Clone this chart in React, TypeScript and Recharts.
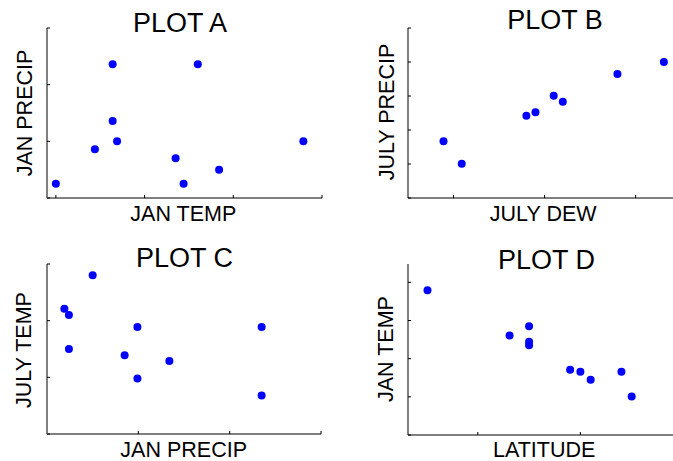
import React from "react";
import { ScatterChart, Scatter, XAxis, YAxis } from "recharts";

// plot A: jan temp vs jan precip
const aTemp = [0, 0.44, 0.64, 0.64, 0.69, 1.35, 1.44, 1.6, 1.84, 2.79];
const aPrecip = [0.25, 0.86, 2.36, 1.36, 1.0, 0.7, 0.25, 2.36, 0.5, 1.0];
// plot B: july dew vs july precip
const bDew = [-0.11, 0.09, 0.8, 0.9, 1.1, 1.2, 1.8, 2.31];
const bPrecip = [1.67, 1.01, 2.42, 2.52, 3.01, 2.83, 3.65, 4.0];
// plot C: jan precip vs july temp
const cPrecip = [0.19, 0.24, 0.5, 0.24, 0.85, 0.99, 0.99, 1.34, 2.35, 2.35];
const cTemp = [2.21, 2.1, 2.8, 1.5, 1.39, 1.89, 0.98, 1.29, 1.89, 0.68];
// plot D: latitude vs jan temp
const dLat = [-0.49, 0.31, 0.5, 0.5, 0.5, 0.9, 1.0, 1.1, 1.4, 1.5];
const dTemp = [3.79, 2.61, 2.85, 2.44, 2.35, 1.71, 1.66, 1.45, 1.66, 1.01];

const FONT = '"Liberation Sans", Arial, sans-serif';

const zip = (xs: number[], ys: number[]) => xs.map((x, i) => ({ x, y: ys[i] }));

const dot = (p: any) => <circle cx={p.cx} cy={p.cy} r={4} fill="#0000ff" />;
// tick marks only, no tick labels
const noLabel = () => <g />;

interface PanelProps {
  left: number; top: number; w: number; h: number;
  data: { x: number; y: number }[];
  xDomain: [number, number]; yDomain: [number, number];
  xTicks: number[]; yTicks: number[];
  yAxisColor: string; yAxisWidth: number;
}

function Panel(p: PanelProps) {
  const pad = 20;
  const ax = 10;
  return (
    <div style={{ position: "absolute", left: p.left - pad, top: p.top - pad }}>
      <ScatterChart width={p.w + pad * 2} height={p.h + pad * 2}
        margin={{ top: pad, right: pad, bottom: pad - ax, left: pad - ax }}>
        <XAxis type="number" dataKey="x" domain={p.xDomain} ticks={p.xTicks} interval={0}
          height={ax} tick={noLabel} tickSize={-3} allowDataOverflow
          axisLine={{ stroke: "#000", strokeWidth: 1 }} tickLine={{ stroke: "#000" }} />
        <YAxis type="number" dataKey="y" domain={p.yDomain} ticks={p.yTicks} interval={0}
          width={ax} tick={noLabel} tickSize={-3} allowDataOverflow
          axisLine={{ stroke: p.yAxisColor, strokeWidth: p.yAxisWidth }} tickLine={{ stroke: "#000" }} />
        <Scatter data={p.data} shape={dot} isAnimationActive={false} />
      </ScatterChart>
    </div>
  );
}

function Label({ x, y, size, text, rotate }: { x: number; y: number; size: number; text: string; rotate?: boolean }) {
  return (
    <div style={{
      position: "absolute", left: x, top: y, fontFamily: FONT, fontSize: size, lineHeight: 1,
      whiteSpace: "nowrap", color: "#000",
      transform: `translate(-50%, -50%)${rotate ? " rotate(-90deg)" : ""}`,
    }}>{text}</div>
  );
}

export default function App() {
  return (
    <div style={{ position: "absolute", left: 0, top: 0, width: 673, height: 461, overflow: "hidden", background: "#fff" }}>
      <Panel left={47} top={28} w={275} h={170} data={zip(aTemp, aPrecip)}
        xDomain={[-0.1, 3]} yDomain={[0, 3]} xTicks={[0, 1, 2, 3]} yTicks={[0, 1, 2, 3]}
        yAxisColor="#808080" yAxisWidth={2} />
      <Panel left={408} top={28} w={275} h={170} data={zip(bDew, bPrecip)}
        xDomain={[-0.5, 2.52]} yDomain={[0, 5]} xTicks={[0, 1, 2]} yTicks={[0, 1, 2, 3, 4, 5]}
        yAxisColor="#000" yAxisWidth={1} />
      <Panel left={47} top={264} w={274} h={170} data={zip(cPrecip, cTemp)}
        xDomain={[0, 3]} yDomain={[0, 3]} xTicks={[0, 1, 2, 3]} yTicks={[0, 1, 2, 3]}
        yAxisColor="#808080" yAxisWidth={2} />
      <Panel left={408} top={264} w={275} h={171} data={zip(dLat, dTemp)}
        xDomain={[-0.68, 2.0]} yDomain={[0, 4.48]} xTicks={[0, 1, 2]} yTicks={[0, 1, 2, 3, 4]}
        yAxisColor="#000" yAxisWidth={1} />

      <Label x={180} y={23} size={27} text="PLOT A" />
      <Label x={555} y={19.5} size={27} text="PLOT B" />
      <Label x={184.5} y={258} size={27} text="PLOT C" />
      <Label x={546.5} y={259.5} size={27} text="PLOT D" />

      <Label x={183.3} y={215} size={21.5} text="JAN TEMP" />
      <Label x={26} y={112.5} size={21.5} text="JAN PRECIP" rotate />
      <Label x={543.2} y={215} size={21.5} text="JULY DEW" />
      <Label x={387.5} y={112.2} size={21.5} text="JULY PRECIP" rotate />
      <Label x={183.7} y={451} size={21.5} text="JAN PRECIP" />
      <Label x={25} y={350} size={21.5} text="JULY TEMP" rotate />
      <Label x={544.2} y={451} size={21.5} text="LATITUDE" />
      <Label x={387} y={348.7} size={21.5} text="JAN TEMP" rotate />
    </div>
  );
}
